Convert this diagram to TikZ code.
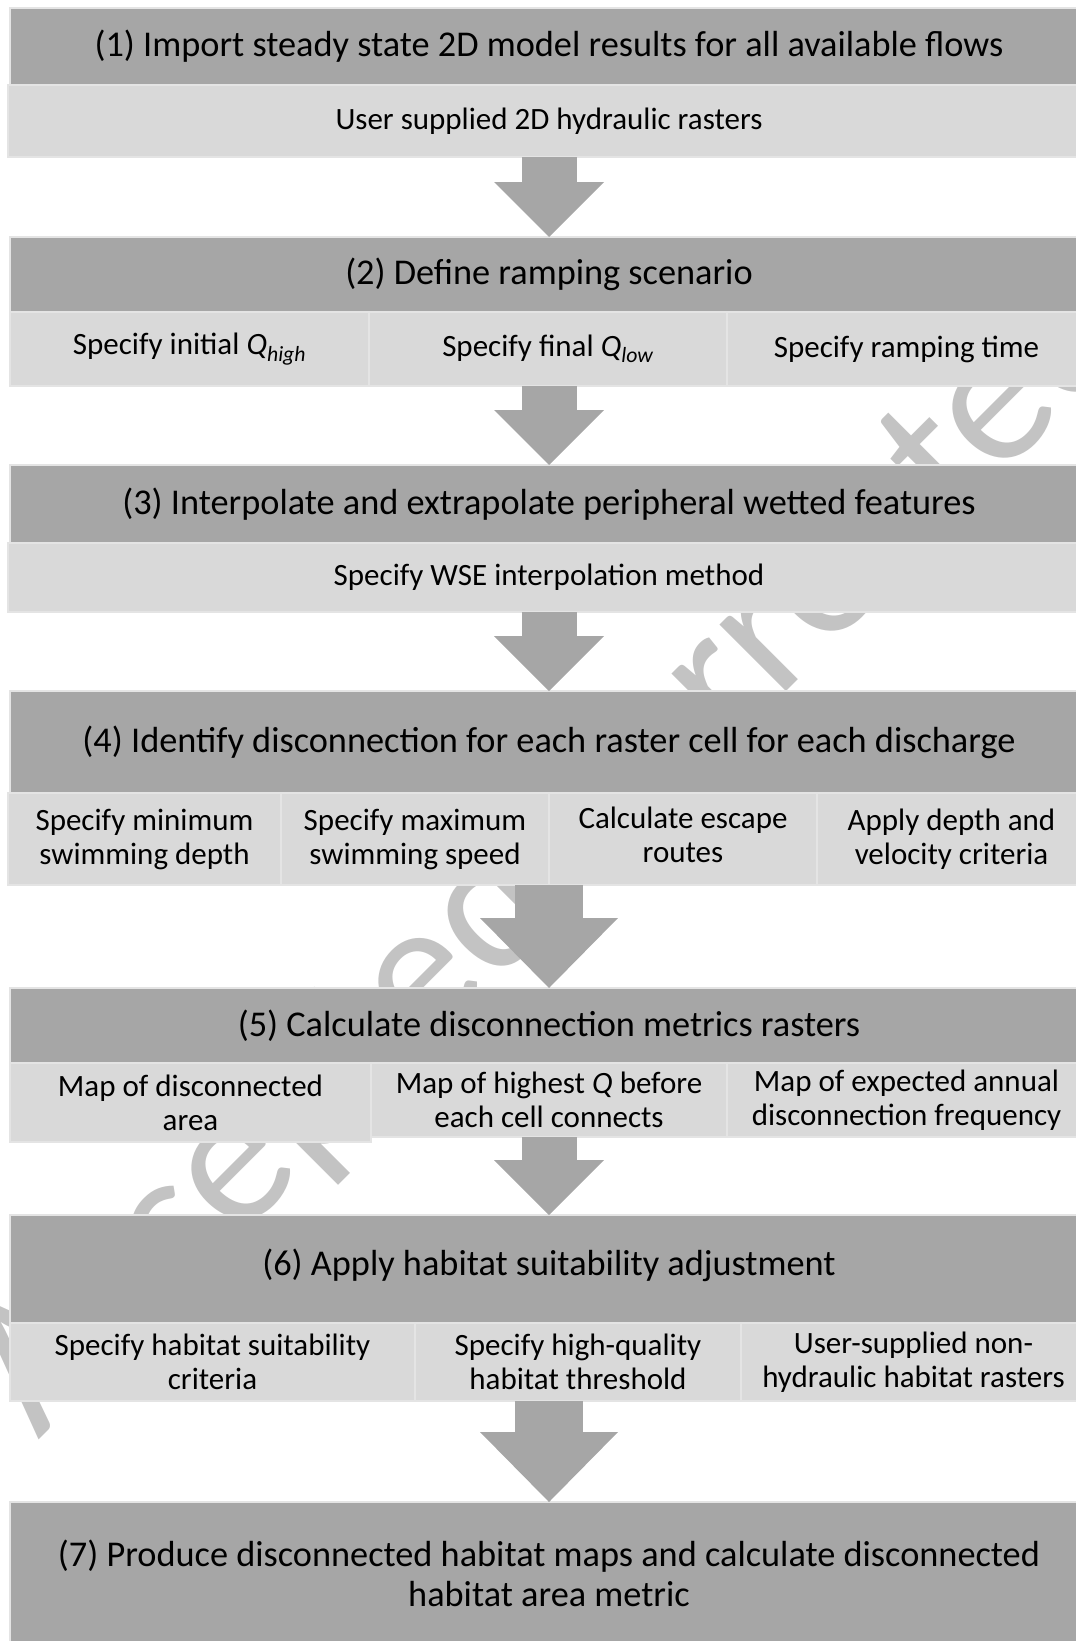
\documentclass[tikz,border=0pt]{standalone}
\usepackage{fontspec}
\setmainfont{Carlito}
\usetikzlibrary{arrows.meta}
\definecolor{headgray}{HTML}{A6A6A6}
\definecolor{cellgray}{HTML}{D9D9D9}
\definecolor{edgegray}{HTML}{E4E4E4}
\definecolor{markgray}{HTML}{C3C3C3}
\begin{document}
\begin{tikzpicture}[x=1pt, y=-1pt, every node/.style={inner sep=0pt, outer sep=0pt, align=center, anchor=north west}]
  \tikzstyle{head}=[draw=edgegray, line width=1.5pt, fill=headgray, minimum width=1078pt, font=\fontsize{36.3}{40}\selectfont]
  \tikzstyle{cell}=[draw=edgegray, line width=1.5pt, fill=cellgray, font=\fontsize{31}{34}\selectfont]
  \tikzstyle{flow}=[draw=headgray, line width=55pt, -{Triangle[width=110pt, length=55pt, line width=0pt]}]
  \tikzstyle{bigflow}=[draw=headgray, line width=68pt, -{Triangle[width=138pt, length=70pt, line width=0pt]}]
  \useasboundingbox (0,0) rectangle (1076,1641);
  \node[anchor=center, rotate=45, text=markgray, font=\fontsize{197}{200}\selectfont] (mark) at (552,852) {Accepted corrected};
  \node[head, minimum height=77pt] (h1) at (10,8) {(1) Import steady state 2D model results for all available flows};
  \node[cell, minimum width=1082pt, minimum height=72pt] (s1) at (8,85) {User supplied 2D hydraulic rasters};
  \node[head, minimum height=75pt] (h2) at (10,237) {(2) Define ramping scenario};
  \node[cell, minimum width=359pt, minimum height=74pt] (s2a) at (10,312) {Specify initial \textit{Q}\textsubscript{\textit{high}}};
  \node[cell, minimum width=358pt, minimum height=74pt] (s2b) at (369,312) {Specify final \textit{Q}\textsubscript{\textit{low}}};
  \node[cell, minimum width=359pt, minimum height=74pt] (s2c) at (727,312) {Specify ramping time};
  \node[head, minimum height=78pt] (h3) at (10,465) {(3) Interpolate and extrapolate peripheral wetted features};
  \node[cell, minimum width=1082pt, minimum height=69pt] (s3) at (8,543) {Specify WSE interpolation method};
  \node[head, minimum height=102pt] (h4) at (10,691) {(4) Identify disconnection for each raster cell for each discharge};
  \node[cell, minimum width=273pt, minimum height=92pt] (s4a) at (8,793) {Specify minimum\\swimming depth};
  \node[cell, minimum width=268pt, minimum height=92pt] (s4b) at (281,793) {Specify maximum\\swimming speed};
  \node[cell, minimum width=268pt, minimum height=92pt] (s4c) at (549,793) {Calculate escape\\routes\rule[-8pt]{0pt}{8pt}};
  \node[cell, minimum width=269pt, minimum height=92pt] (s4d) at (817,793) {Apply depth and\\velocity criteria};
  \node[head, minimum height=75pt] (h5) at (10,988) {(5) Calculate disconnection metrics rasters};
  \node[cell, minimum width=361pt, minimum height=79pt] (s5a) at (10,1063) {Map of disconnected\\area};
  \node[cell, minimum width=356pt, minimum height=74pt] (s5b) at (371,1063) {Map of highest \textit{Q} before\\each cell connects};
  \node[cell, minimum width=359pt, minimum height=74pt] (s5c) at (727,1063) {Map of expected annual\\disconnection frequency};
  \node[head, minimum height=108pt, text depth=14pt] (h6) at (10,1215) {(6) Apply habitat suitability adjustment};
  \node[cell, minimum width=405pt, minimum height=78pt] (s6a) at (10,1323) {Specify habitat suitability\\criteria};
  \node[cell, minimum width=326pt, minimum height=78pt] (s6b) at (415,1323) {Specify high-quality\\habitat threshold};
  \node[cell, minimum width=345pt, minimum height=78pt] (s6c) at (741,1323) {User-supplied non-\\hydraulic habitat rasters};
  \node[head, minimum height=143pt] (h7) at (10,1502) {(7) Produce disconnected habitat maps and calculate disconnected\\habitat area metric};
  \draw[flow] (h1.center |- s1.south) -- (h2.north);
  \draw[flow] (h2.center |- s2b.south) -- (h3.north);
  \draw[flow] (h3.center |- s3.south) -- (h4.north);
  \draw[bigflow] (h4.center |- s4c.south) -- (h5.north);
  \draw[flow] (h5.center |- s5b.south) -- (h6.north);
  \draw[bigflow] (h6.center |- s6b.south) -- (h7.north);
\end{tikzpicture}
\end{document}
